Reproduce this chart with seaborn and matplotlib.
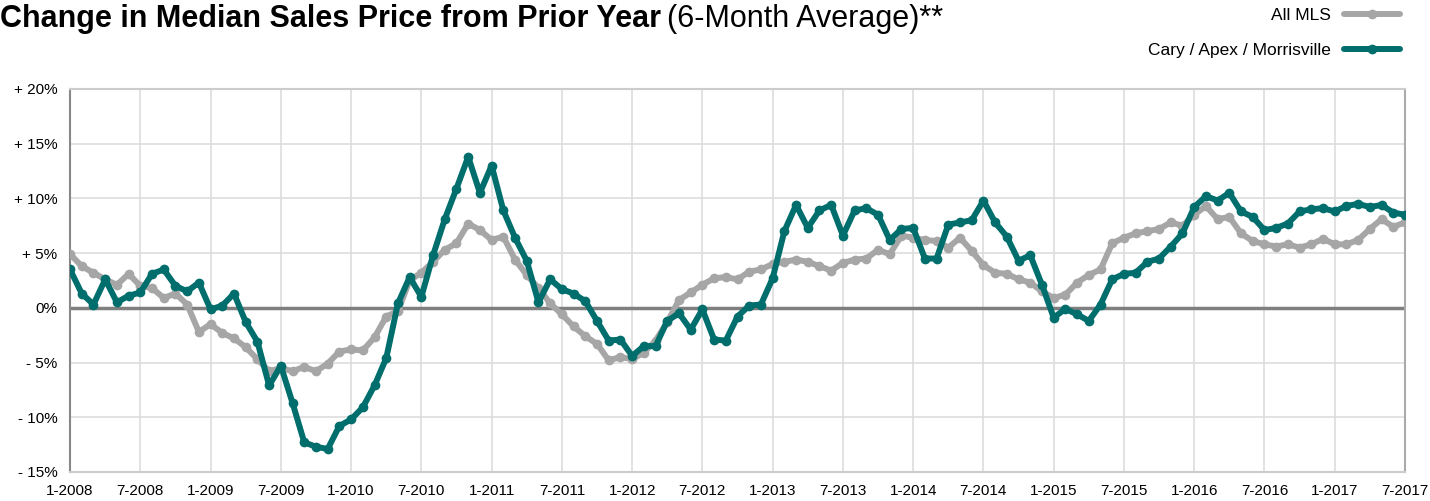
import numpy as np
import pandas as pd
import seaborn as sns
import matplotlib.pyplot as plt
from matplotlib.lines import Line2D

# monthly tick labels, every 6 months from 1-2008 to 7-2017
tick_labels = ['1-2008', '7-2008', '1-2009', '7-2009', '1-2010', '7-2010', '1-2011',
               '7-2011', '1-2012', '7-2012', '1-2013', '7-2013', '1-2014', '7-2014',
               '1-2015', '7-2015', '1-2016', '7-2016', '1-2017', '7-2017']

all_mls = [4.9, 3.8, 3.2, 2.6, 2.1, 3.1, 2.0, 1.8, 0.9, 1.3, 0.3, -2.2, -1.5, -2.3, -2.8,
           -3.6, -4.7, -5.8, -5.5, -5.8, -5.4, -5.8, -5.1, -4.0, -3.8, -3.9, -2.7, -0.8,
           -0.3, 2.5, 3.2, 4.2, 5.3, 5.9, 7.7, 7.1, 6.2, 6.5, 4.4, 3.0, 1.8, 0.4, -0.6,
           -1.7, -2.6, -3.3, -4.8, -4.5, -4.7, -4.1, -3.0, -1.3, 0.7, 1.4, 2.1, 2.7, 2.8,
           2.6, 3.3, 3.5, 4.0, 4.2, 4.4, 4.2, 3.8, 3.4, 4.1, 4.4, 4.5, 5.3, 4.9, 6.6, 6.4,
           6.2, 6.1, 5.5, 6.4, 5.2, 3.9, 3.2, 3.1, 2.6, 2.3, 1.5, 0.9, 1.2, 2.3, 3.0, 3.5,
           5.9, 6.4, 6.8, 7.0, 7.2, 7.8, 7.5, 8.5, 9.3, 8.1, 8.3, 6.8, 6.1, 5.8, 5.6, 5.8,
           5.5, 5.8, 6.3, 5.8, 5.8, 6.2, 7.2, 8.1, 7.4, 7.8]

cary_apex = [3.5, 1.3, 0.3, 2.6, 0.5, 1.1, 1.4, 3.1, 3.5, 2.0, 1.5, 2.3, -0.15, 0.2, 1.3,
             -1.3, -3.1, -7.1, -5.3, -8.7, -12.3, -12.7, -12.9, -10.8, -10.2, -9.1, -7.1,
             -4.6, 0.4, 2.8, 1.0, 4.8, 8.1, 10.9, 13.8, 10.5, 13.0, 8.9, 6.4, 4.3, 0.5, 2.6,
             1.7, 1.3, 0.6, -1.2, -3.0, -2.9, -4.4, -3.5, -3.5, -1.2, -0.5, -2.0, -0.15,
             -2.9, -3.0, -0.8, 0.2, 0.3, 2.7, 7.0, 9.4, 7.3, 8.9, 9.4, 6.6, 8.9, 9.1, 8.5,
             6.2, 7.2, 7.3, 4.5, 4.5, 7.6, 7.8, 8.0, 9.8, 7.8, 6.5, 4.3, 4.8, 2.1, -0.9,
             -0.1, -0.6, -1.2, 0.3, 2.6, 3.1, 3.2, 4.2, 4.5, 5.6, 6.8, 9.2, 10.2, 9.8, 10.5,
             8.8, 8.3, 7.1, 7.3, 7.7, 8.8, 9.0, 9.1, 8.8, 9.3, 9.5, 9.2, 9.4, 8.7, 8.5]

series_names = ['All MLS', 'Cary / Apex / Morrisville']
colors = ['#A6A6A6', '#006E6C']

months = np.arange(len(all_mls))
df = pd.concat([
    pd.DataFrame({'month': months, 'value': all_mls, 'series': series_names[0]}),
    pd.DataFrame({'month': months, 'value': cary_apex, 'series': series_names[1]}),
])

sns.set_style('white')
plt.rcParams['font.family'] = ['Liberation Sans', 'DejaVu Sans']
plt.rcParams['text.color'] = 'black'
plt.rcParams['xtick.color'] = 'black'
plt.rcParams['ytick.color'] = 'black'

fig = plt.figure(figsize=(14.3, 5.01), dpi=100)
ax = fig.add_axes([0.049, 0.058, 0.9335, 0.7645])

ax.grid(True, color='#DDDDDD', linewidth=1.2)
ax.set_axisbelow(True)
ax.axhline(0, color='#7F7F7F', linewidth=2.5, zorder=1.5)

sns.lineplot(data=df, x='month', y='value', hue='series', hue_order=series_names,
             palette=colors, marker='o', markersize=7, markeredgewidth=0,
             linewidth=4.3, legend=False, ax=ax, zorder=3)

ax.set_xlim(0, len(all_mls) - 1)
ax.set_ylim(-15, 20)
ax.set_xticks(np.arange(0, len(all_mls), 6))
ax.set_xticklabels(tick_labels)
yt = np.arange(-15, 21, 5)
ax.set_yticks(yt)
ax.set_yticklabels([('+ %d%%' % v) if v > 0 else ('- %d%%' % -v) if v < 0 else '0%' for v in yt])
ax.tick_params(axis='y', length=5, color='#888888', labelcolor='black', labelsize=11, pad=4, width=1)
ax.tick_params(axis='x', length=0, labelcolor='black', labelsize=11, pad=9)
ax.set_xlabel('')
ax.set_ylabel('')

for side in ['top', 'bottom']:
    ax.spines[side].set_color('#CCCCCC')
    ax.spines[side].set_linewidth(1.5)
ax.spines['left'].set_color('#888888')
ax.spines['left'].set_linewidth(1.5)
ax.spines['right'].set_color('#AAAAAA')
ax.spines['right'].set_linewidth(1.5)

handles = [Line2D([], [], color=c, linewidth=4.3, marker='o', markersize=7,
                  markeredgewidth=0) for c in colors]
fig.legend(handles, series_names, loc='upper right', bbox_to_anchor=(0.979, 0.985),
           frameon=False, markerfirst=False, handlelength=3.2, labelspacing=1.15,
           borderpad=0, borderaxespad=0, handletextpad=0.8, fontsize=12.5)

# title: bold part then light part right after it
t1 = fig.text(0.0, 1 - 27 / 501, 'Change in Median Sales Price from Prior Year',
              fontsize=22, fontweight='bold', va='baseline', color='black')
fig.canvas.draw()
bb = t1.get_window_extent()
fig.text(bb.x1 / fig.bbox.width + 0.004, 1 - 27 / 501, '(6-Month Average)**',
         fontsize=22, va='baseline', color='black')

fig.savefig('out.png', dpi=100)
